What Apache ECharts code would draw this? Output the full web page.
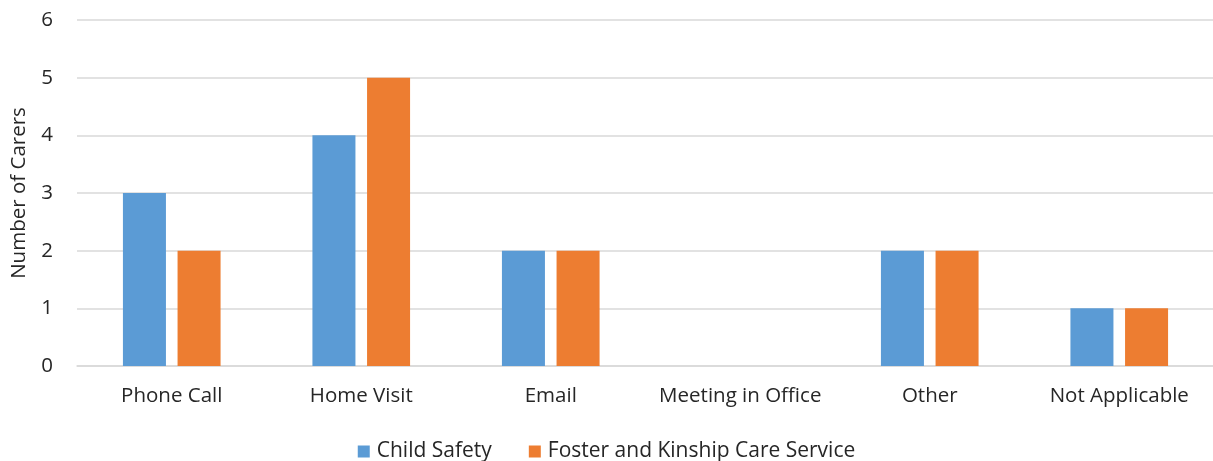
<!DOCTYPE html>
<html><head><meta charset="utf-8">
<script src="https://cdn.jsdelivr.net/npm/echarts@6/dist/echarts.min.js"></script>
<style>html,body{margin:0;padding:0;background:#fff}#c{width:1213px;height:461px}</style>
</head><body><div id="c"></div>
<script>
const categories = ["Phone Call", "Home Visit", "Email", "Meeting in Office", "Other", "Not Applicable"];
const childSafety = [3, 4, 2, 0, 2, 1];
const fosterKinship = [2, 5, 2, 0, 2, 1];
const yTicks = { min: 0, max: 6, interval: 1 };

const font = "'Open Sans', sans-serif";
const fs = 20.5;
const txt = '#262626';
const chart = echarts.init(document.getElementById('c'), null, { renderer: 'canvas' });
chart.setOption({
  animation: false,
  backgroundColor: '#fff',
  textStyle: { fontFamily: font },
  grid: { left: 77, top: 20, width: 1137, height: 346, containLabel: false, outerBoundsMode: 'none' },
  legend: {
    top: 436, left: 'center', itemWidth: 12, itemHeight: 12, itemGap: 37,
    icon: 'rect',
    textStyle: { fontFamily: font, fontSize: 21, color: txt, padding: [0, 0, 0, 2] },
    data: ['Child Safety', 'Foster and Kinship Care Service']
  },
  xAxis: {
    type: 'category', data: categories,
    axisLine: { show: true, lineStyle: { color: '#d9d9d9', width: 1.5 } },
    axisTick: { show: false },
    axisLabel: { fontFamily: font, fontSize: fs, color: txt, margin: 20, interval: 0 }
  },
  yAxis: {
    type: 'value', min: yTicks.min, max: yTicks.max, interval: yTicks.interval,
    name: 'Number of Carers', nameLocation: 'middle', nameGap: 47, nameRotate: 90,
    nameTextStyle: { fontFamily: font, fontSize: fs, color: txt },
    axisLine: { show: false }, axisTick: { show: false },
    axisLabel: { fontFamily: font, fontSize: fs, color: txt, margin: 24 },
    splitLine: { lineStyle: { color: '#d9d9d9', width: 1.5 } }
  },
  series: [
    { name: 'Child Safety', type: 'bar', data: childSafety, barWidth: '22.7%', barGap: '27%',
      itemStyle: { color: '#5b9bd5' } },
    { name: 'Foster and Kinship Care Service', type: 'bar', data: fosterKinship, barWidth: '22.7%', barGap: '27%',
      itemStyle: { color: '#ed7d31' } }
  ]
});
</script></body></html>
